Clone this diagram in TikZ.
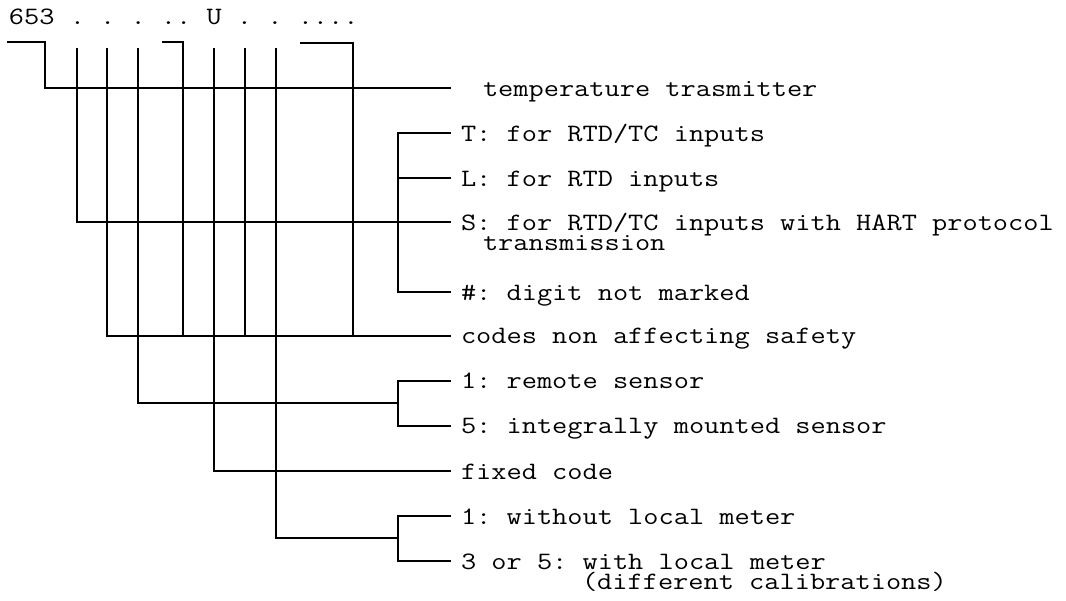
\documentclass[tikz,border=0pt]{standalone}
\usepackage{graphicx}
\newcommand\codefont{\ttfamily\fontsize{25}{20}\selectfont\frenchspacing}
\newlength\chw
\newcommand\tw[1]{\settowidth{\chw}{\codefont 0}\pgfmathsetmacro\twf{15.2pt/\chw}\scalebox{\twf}[1]{#1}}
\tikzset{
  wire/.style={line width=1.1pt, line cap=butt, line join=miter},
  lbl/.style={anchor=base west, inner sep=0pt, outer sep=0pt, font=\codefont,
              text height=14pt, text depth=4pt},
}
\begin{document}
\begin{tikzpicture}[x=1pt,y=-1pt]
\useasboundingbox (0,0) rectangle (1066,601);
% header code
\node[lbl] (title) at (9,25) {\tw{653 . . . .. U . . ....}};
% labels
\node[lbl] (temp)  at (483,97)  {\tw{temperature trasmitter}};
\node[lbl] (T)     at (461,142) {\tw{T: for RTD/TC inputs}};
\node[lbl] (L)     at (461,187) {\tw{L: for RTD inputs}};
\node[lbl] (S)     at (461,231) {\tw{S: for RTD/TC inputs with HART protocol}};
\node[lbl] (Sb)    at (483,251) {\tw{transmission}};
\node[lbl] (H)     at (461,301) {\tw{\#: digit not marked}};
\node[lbl] (codes) at (461,344) {\tw{codes non affecting safety}};
\node[lbl] (r1)    at (461,389) {\tw{1: remote sensor}};
\node[lbl] (r5)    at (461,434) {\tw{5: integrally mounted sensor}};
\node[lbl] (fix)   at (461,479) {\tw{fixed code}};
\node[lbl] (m1)    at (461,524) {\tw{1: without local meter}};
\node[lbl] (m3)    at (461,569) {\tw{3 or 5: with local meter}};
\node[lbl] (m3b)   at (582,589) {\tw{(different calibrations)}};
% connector ends next to the labels
\coordinate (eTemp)  at (451,88);
\coordinate (eT)     at (451,133);
\coordinate (eL)     at (451,178);
\coordinate (eS)     at (451,222);
\coordinate (eH)     at (451,292);
\coordinate (eCodes) at (451,336);
\coordinate (eR1)    at (451,381);
\coordinate (eR5)    at (451,426);
\coordinate (eFix)   at (451,471);
\coordinate (eM1)    at (451,516);
\coordinate (eM3)    at (451,561);
% tops of the digit lines
\coordinate (a0) at (7,42);
\coordinate (a1) at (45,42);
\coordinate (d1) at (77,48);
\coordinate (d2) at (107,48);
\coordinate (d3) at (138,48);
\coordinate (b0) at (162,42);
\coordinate (b1) at (183,42);
\coordinate (d5) at (214,48);
\coordinate (d6) at (245,48);
\coordinate (d7) at (276,48);
\coordinate (c0) at (300,43);
\coordinate (c1) at (353,43);
% bracket spines
\coordinate (sp1) at (398,222);
\coordinate (sp2) at (398,403);
\coordinate (sp3) at (398,538);
% digits 653 -> temperature trasmitter
\draw[wire] (a0) -- (a1) |- (eTemp);
% first digit -> S
\draw[wire] (d1) |- (eS);
% codes non affecting safety
\draw[wire] (d2) |- (eCodes);
\draw[wire] (b0) -- (b1) -- (b1 |- eCodes);
\draw[wire] (d6) -- (d6 |- eCodes);
\draw[wire] (c0) -- (c1) -- (c1 |- eCodes);
% sensor digit
\draw[wire] (d3) |- (sp2);
% fixed code
\draw[wire] (d5) |- (eFix);
% meter digit
\draw[wire] (d7) |- (sp3);
% bracket T/L/S/#
\draw[wire] (eT) -| (sp1) |- (eH);
\draw[wire] (eL) -- (sp1 |- eL);
% bracket sensors
\draw[wire] (eR1) -| (sp2) |- (eR5);
% bracket meters
\draw[wire] (eM1) -| (sp3) |- (eM3);
\end{tikzpicture}
\end{document}
